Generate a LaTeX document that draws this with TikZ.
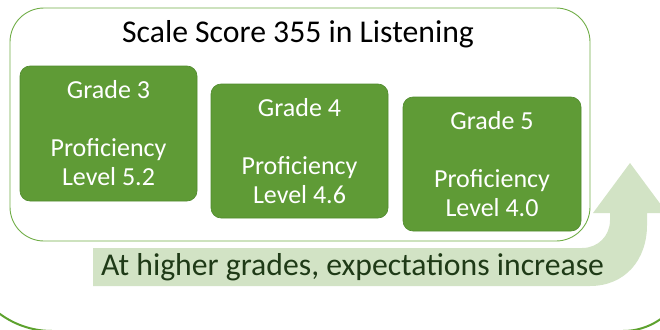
\documentclass[tikz,border=0pt]{standalone}
\usepackage{fontspec}
\setmainfont{Carlito}
\definecolor{gfill}{HTML}{5F9B36}
\definecolor{gedge}{HTML}{4F8A2C}
\definecolor{boxline}{HTML}{70AD47}
\definecolor{frameline}{HTML}{5DA22E}
\definecolor{band}{HTML}{D2E3C5}
\definecolor{bandtext}{HTML}{1F3A17}
\begin{document}
\begin{tikzpicture}[x=1pt,y=-1pt,
  gbox/.style={draw=gedge,line width=0.6pt,fill=gfill,rounded corners=10pt,
    text=white,align=center,font=\fontsize{26}{29}\selectfont,inner sep=0pt},
  titletext/.style={font=\fontsize{31.7}{36}\selectfont,anchor=base,text=black},
  bandlabel/.style={font=\fontsize{31.7}{36}\selectfont,anchor=base,text=bandtext}]
\useasboundingbox (0,0) rectangle (660,329);
\clip (0,0) rectangle (660,329);
% big outer frame (partly visible)
\draw[frameline,line width=2pt,rounded corners=88pt] (-36,150) -- (-36,331) -- (330,331);
\draw[frameline,line width=2pt,rounded corners=65pt] (330,331) -- (688,331) -- (688,150);
% bent arrow
\fill[band] (93,248) -- (582,248)
  .. controls (598,248) and (610,236) .. (610,220)
  -- (610,213) -- (593,213) -- (630,163) -- (667,213) -- (647,213) -- (647,225)
  .. controls (647,260) and (625,286) .. (590,286)
  -- (93,286) -- cycle;
% container
\node[draw=boxline,line width=0.9pt,rounded corners=34pt,minimum width=580pt,minimum height=233pt,inner sep=0pt] (frame) at (300,124.5) {};
\node[titletext] (title) at (298,43) {Scale Score 355 in Listening};
% grade boxes
\node[gbox,minimum width=177pt,minimum height=135pt] (g3) at (108.5,133.5) {Grade 3\\[29pt]Proficiency\\Level 5.2};
\node[gbox,minimum width=177pt,minimum height=134pt] (g4) at (299.5,151) {Grade 4\\[29pt]Proficiency\\Level 4.6};
\node[gbox,minimum width=178pt,minimum height=134pt] (g5) at (492,164) {Grade 5\\[29pt]Proficiency\\Level 4.0};
% arrow label
\node[bandlabel] (lbl) at (352.5,275) {At higher grades, expectations increase};
\end{tikzpicture}
\end{document}
